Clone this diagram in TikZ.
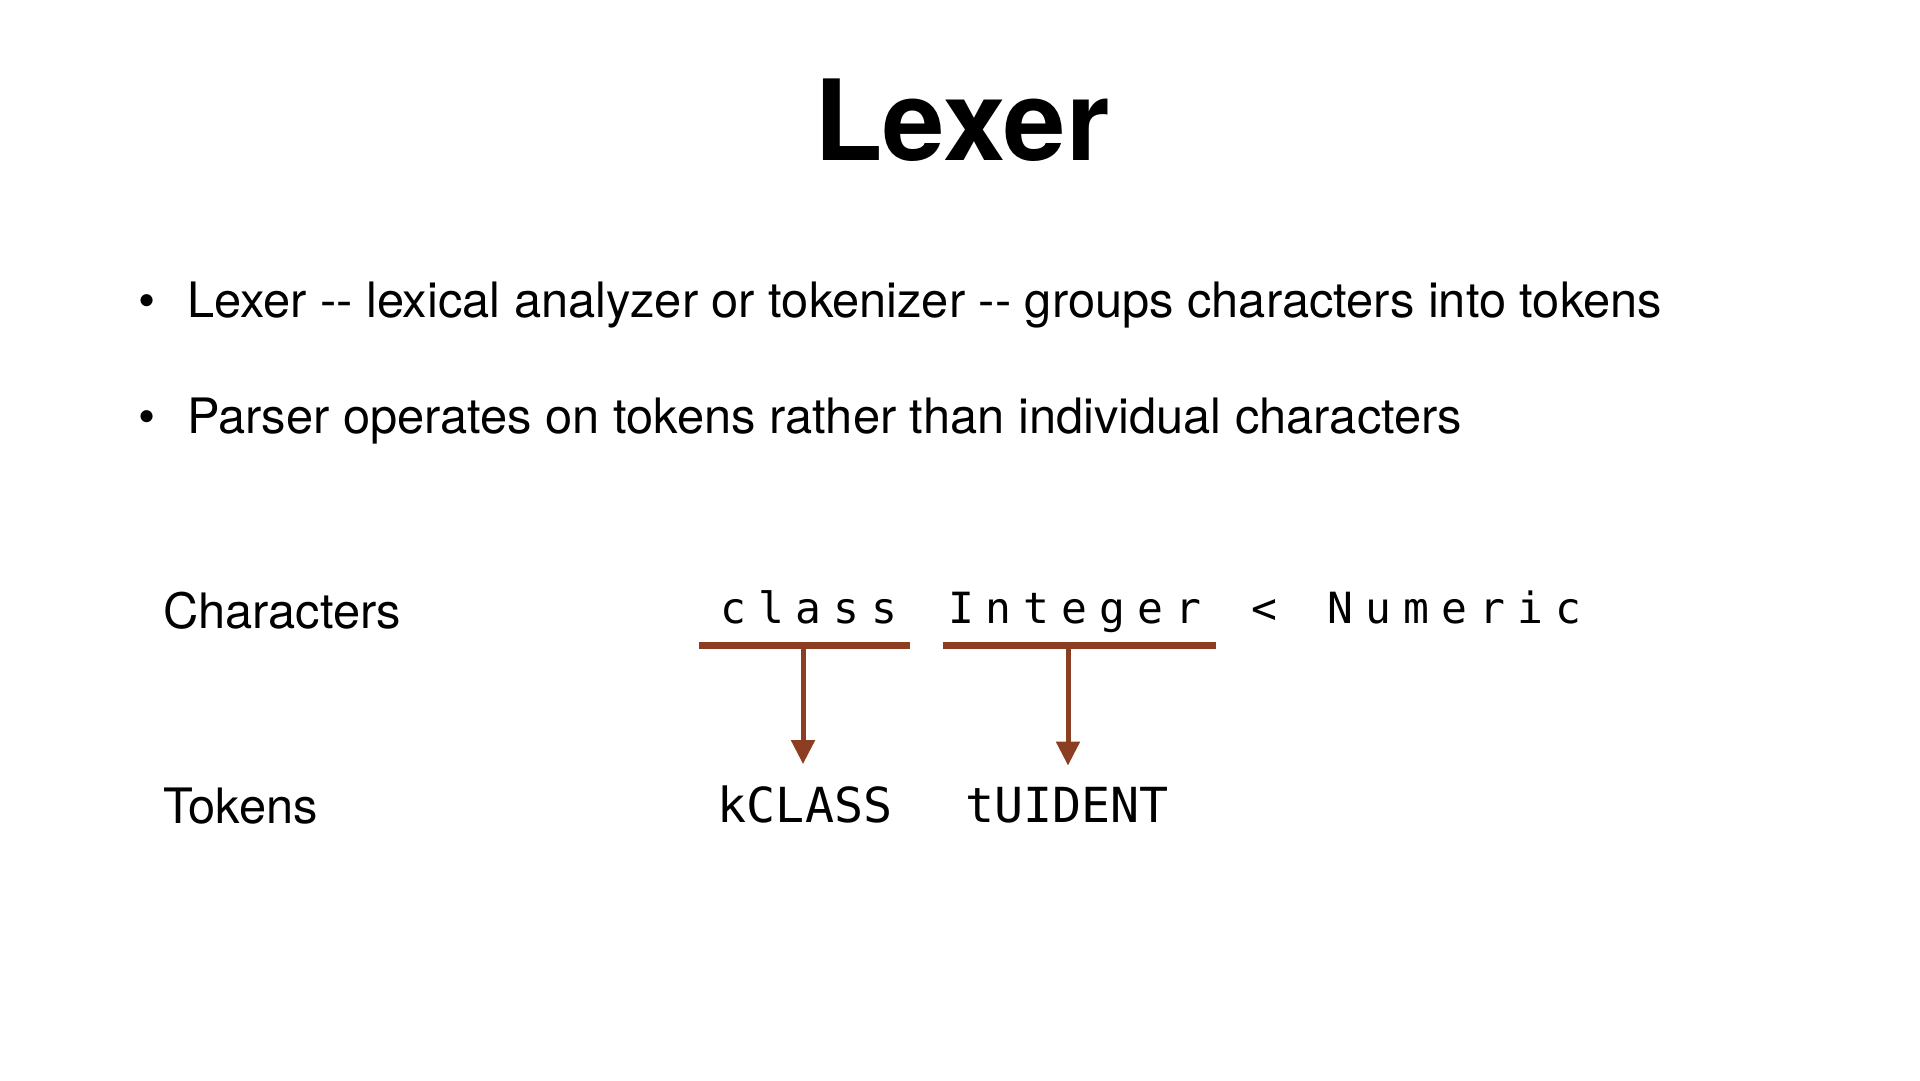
\documentclass[tikz,border=0pt]{standalone}
\usepackage{fontspec}
\setmainfont{TeX Gyre Heros}[Ligatures=TeXOff]
\newfontfamily\monof{DejaVu Sans Mono}
\usetikzlibrary{arrows.meta,calc}
\definecolor{rust}{RGB}{140,62,35}
\newlength\trkw \setlength\trkw{37.9pt}
\newcommand\trk[1]{\makebox[\trkw][l]{#1}}
\begin{document}
\begin{tikzpicture}[x=1pt,y=-1pt,
  txt/.style={inner sep=0pt,anchor=base west},
  ttlstyle/.style={inner sep=0pt,anchor=base,font=\fontsize{112}{124}\selectfont\bfseries},
  body/.style={txt,font=\fontsize{48.8}{56}\selectfont},
  chars/.style={txt,font=\fontsize{43}{50}\selectfont\monof},
  tok/.style={inner sep=0pt,anchor=base,font=\fontsize{48.3}{56}\selectfont\monof},
  bar/.style={draw=rust,line width=7pt},
  arr/.style={draw=rust,line width=5pt,-{Triangle[width=23pt,length=24pt]}}
]
\fill[white] (0,0) rectangle (1920,1080);
\useasboundingbox (0,0) rectangle (1920,1080);

\node[ttlstyle] (ttl) at (962,160) {Lexer};

\node[body,anchor=base] (d1) at (147,317) {\textbullet};
\node[body] (bl1) at (187,317) {Lexer -- lexical analyzer or tokenizer -- groups characters into tokens};
\node[body,anchor=base] (d2) at (147,433) {\textbullet};
\node[body] (bl2) at (187,433) {Parser operates on tokens rather than individual characters};

\node[body] (lblc) at (163,628) {Characters};
\node[body] (lblt) at (163,823) {Tokens};

\node[chars] (cls) at (720,623) {\trk{c}\trk{l}\trk{a}\trk{s}\trk{s}};
\node[chars] (int) at ([xshift=\trkw]cls.base east) {\trk{I}\trk{n}\trk{t}\trk{e}\trk{g}\trk{e}\trk{r}};
\node[chars] (lts) at ([xshift=\trkw]int.base east) {\trk{<}};
\node[chars] (num) at ([xshift=\trkw]lts.base east) {\trk{N}\trk{u}\trk{m}\trk{e}\trk{r}\trk{i}\trk{c}};

\coordinate (b1l) at ($(cls.base west)+(-21,22)$);
\coordinate (b1r) at ($(cls.base east)+(0,22)$);
\coordinate (b2l) at ($(int.base west)+(-5,22)$);
\coordinate (b2r) at ($(int.base east)+(2,22)$);
\draw[bar] (b1l) -- (b1r);
\draw[bar] (b2l) -- (b2r);

\node[tok] (kc) at (805,822) {kCLASS};
\node[tok] (tu) at (1067,822) {tUIDENT};

\coordinate (a1) at (803,645);
\coordinate (a2) at (1068,645);
\draw[arr,shorten >=21pt] (a1) -- (a1 |- kc.north);
\draw[arr,shorten >=21pt] (a2) -- (a2 |- tu.north);
\end{tikzpicture}
\end{document}
